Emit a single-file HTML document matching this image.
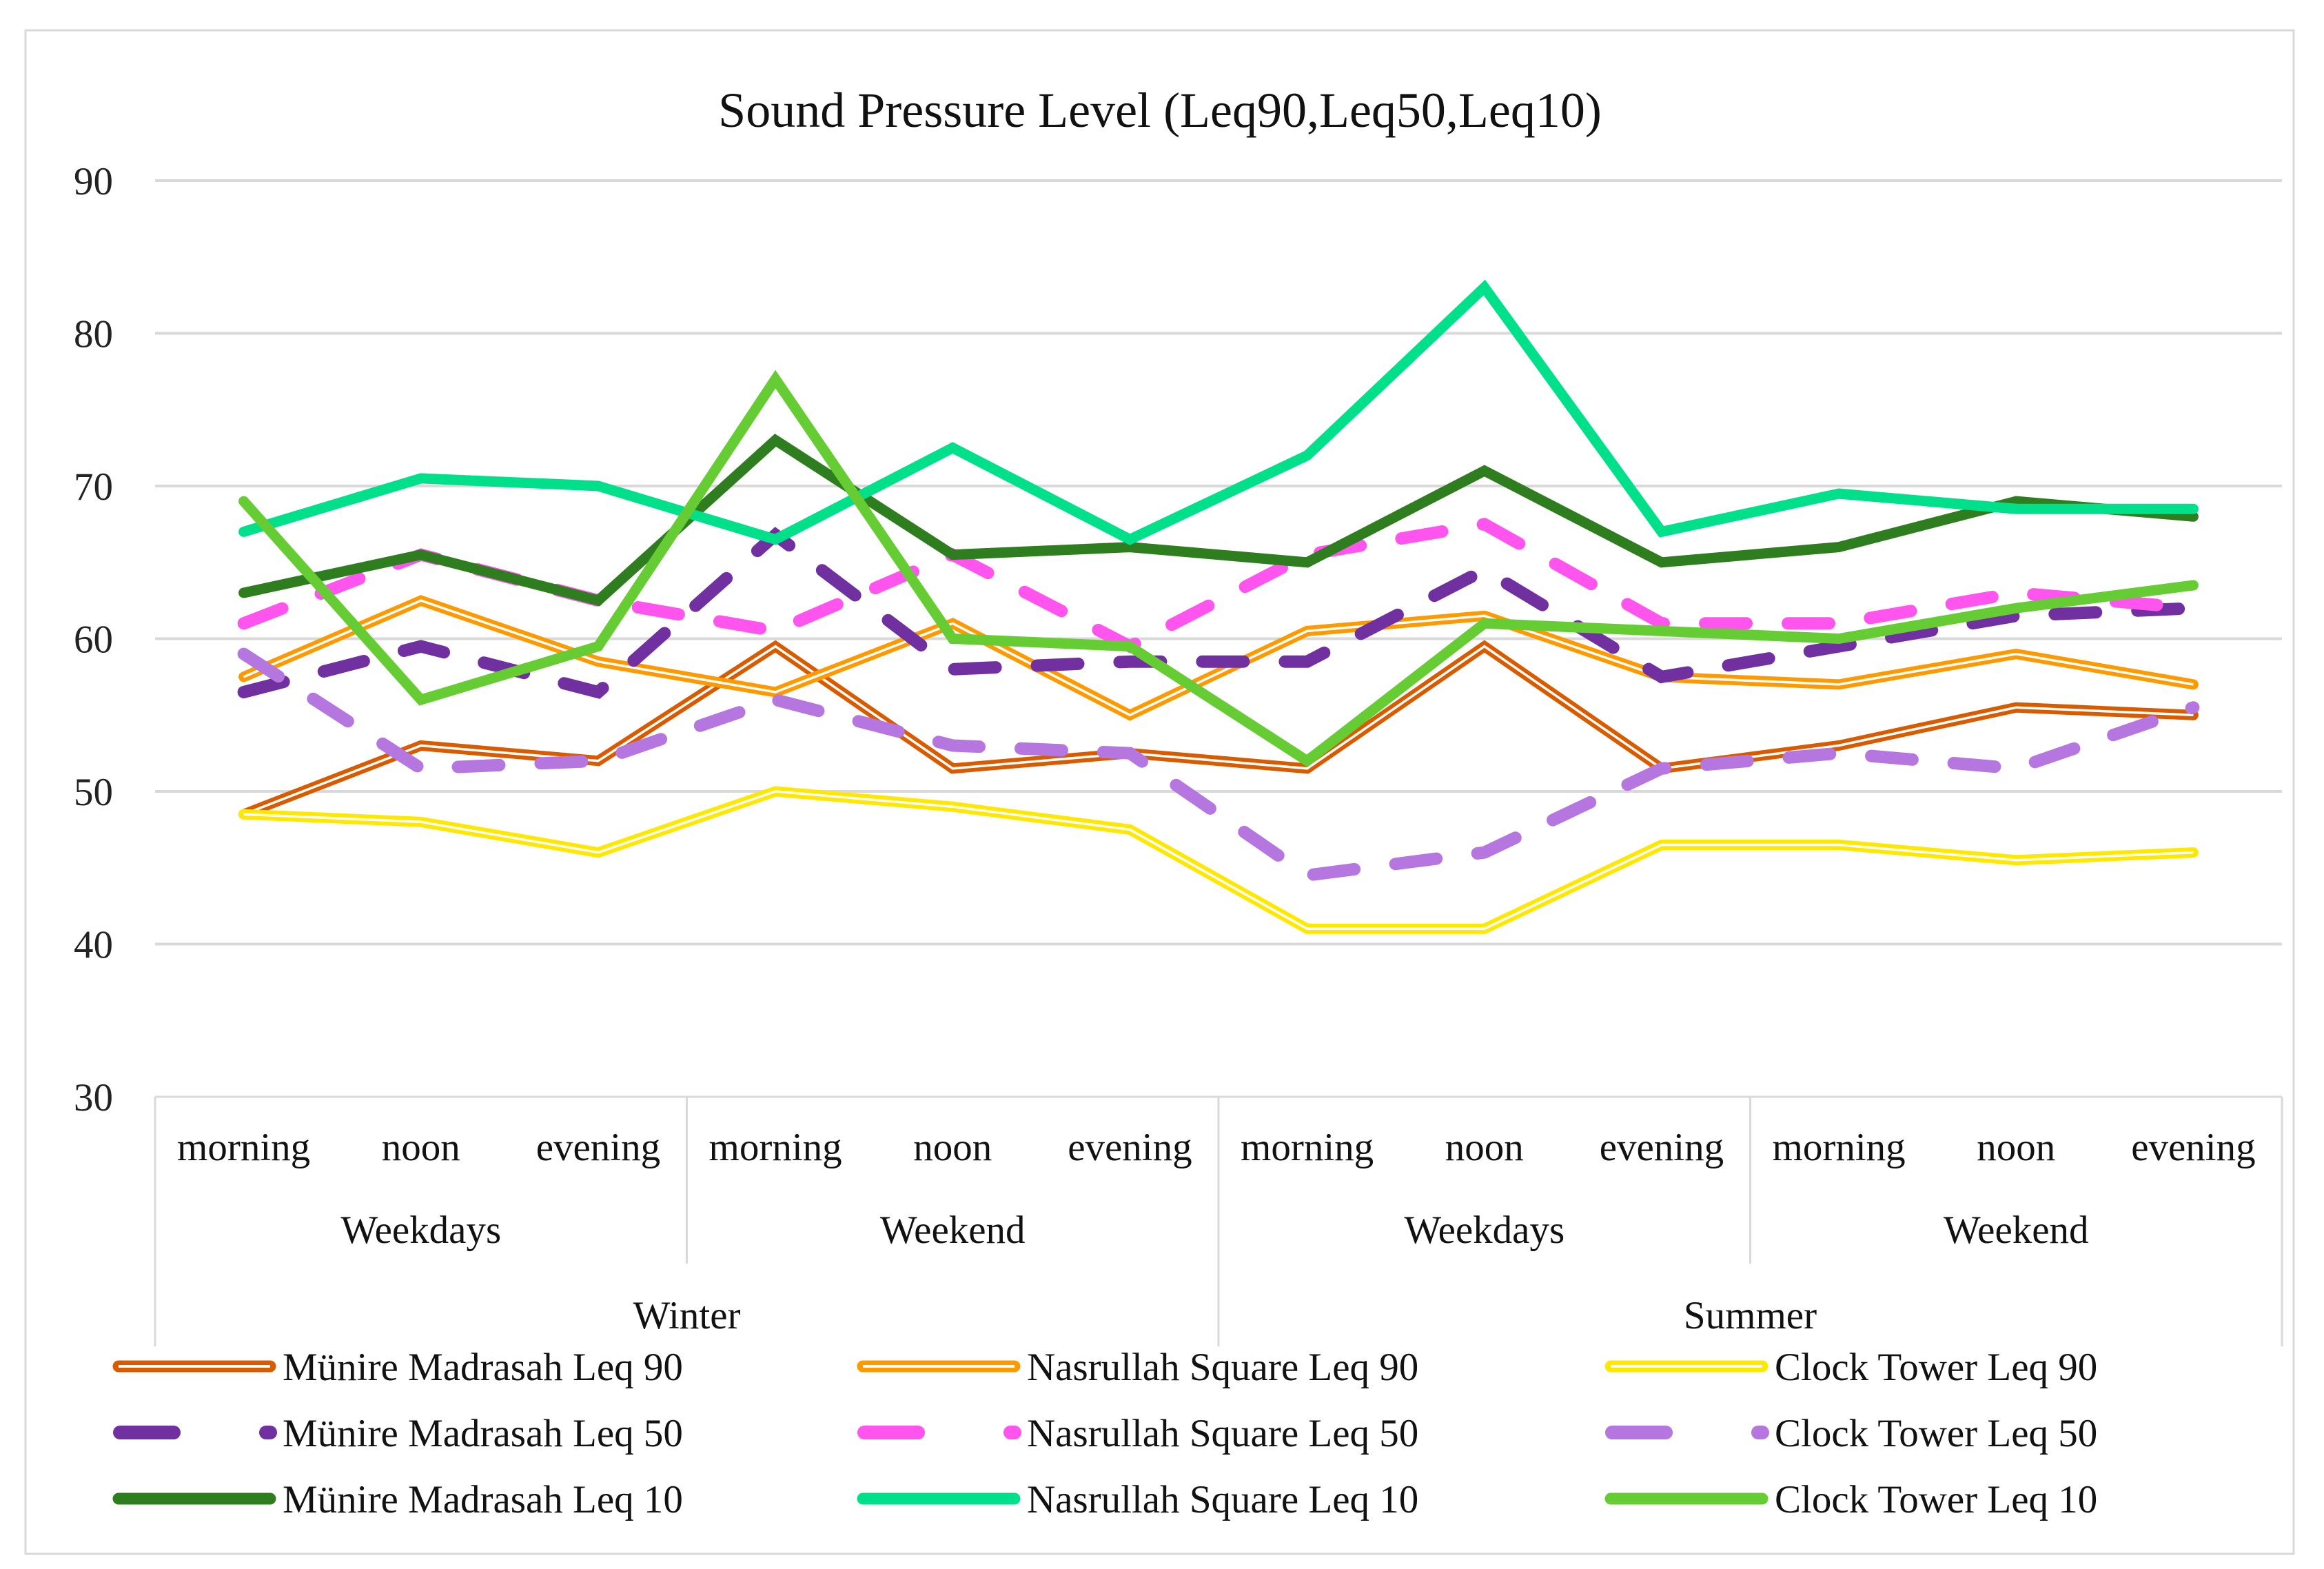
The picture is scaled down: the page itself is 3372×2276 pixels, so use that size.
<!DOCTYPE html>
<html><head><meta charset="utf-8"><style>
html,body{margin:0;padding:0;background:#fff;}
svg{display:block;font-family:"Liberation Serif",serif;}
</style></head><body>
<svg id="chart" width="3372" height="2276" viewBox="0 0 3372 2276" xmlns="http://www.w3.org/2000/svg">
<rect x="37" y="44" width="3291" height="2210" fill="#fff" stroke="#d9d9d9" stroke-width="3"/>
<text x="1683" y="184" font-size="72" text-anchor="middle" fill="#111">Sound Pressure Level (Leq90,Leq50,Leq10)</text>
<g id="grid"></g><g id="axis"></g><g id="series"></g><g id="legend"></g>
</svg>
<script>
const categories = ["morning","noon","evening","morning","noon","evening","morning","noon","evening","morning","noon","evening"];
const dayGroups = ["Weekdays","Weekend","Weekdays","Weekend"];
const seasons = ["Winter","Summer"];
const yTicks = [30,40,50,60,70,80,90];
const seriesNames = ["Münire Madrasah Leq 90","Nasrullah Square Leq 90","Clock Tower Leq 90","Münire Madrasah Leq 50","Nasrullah Square Leq 50","Clock Tower Leq 50","Münire Madrasah Leq 10","Nasrullah Square Leq 10","Clock Tower Leq 10"];
const munire90 = [48.5,53,52,59.5,51.5,52.5,51.5,59.5,51.5,53,55.5,55];
const nasrullah90 = [57.5,62.5,58.5,56.5,61,55,60.5,61.5,57.5,57,59,57];
const clock90 = [48.5,48,46,50,49,47.5,41,41,46.5,46.5,45.5,46];
const munire50 = [56.5,59.5,56.5,66.8,58,58.5,58.5,64.5,57.5,59.5,61.5,62];
const nasrullah50 = [61,65.5,62.5,60.5,65.5,59.5,65.5,67.5,61,61,63,62];
const clock50 = [59,51.5,52,56,53,52.5,44.5,46,51.5,52.5,51.5,55.5];
const munire10 = [63,65.5,62.5,73,65.5,66,65,71,65,66,69,68];
const nasrullah10 = [67,70.5,70,66.5,72.5,66.5,72,83,67,69.5,68.5,68.5];
const clock10 = [69,56,59.5,77,60,59.5,52,61,60.5,60,62,63.5];

const NS="http://www.w3.org/2000/svg";
const L=225,R=3311,T=262,B=1591,YMIN=30,YMAX=90;
const cw=(R-L)/categories.length;
const x=i=>L+cw*(i+0.5);
const y=v=>B-(v-YMIN)/(YMAX-YMIN)*(B-T);
function mk(tag,attrs,parent){const e=document.createElementNS(NS,tag);for(const k in attrs)e.setAttribute(k,attrs[k]);parent.appendChild(e);return e;}
const grid=document.getElementById('grid'),axis=document.getElementById('axis'),ser=document.getElementById('series'),leg=document.getElementById('legend');
yTicks.forEach(t=>{
  if(t>YMIN){const g=mk('line',{x1:L,x2:R,y1:y(t),y2:y(t),stroke:'#d9d9d9','stroke-width':4},grid);
  
  }
  const tx=mk('text',{x:164,y:y(t)+20,'font-size':57,'text-anchor':'end',fill:'#222'},grid);tx.textContent=t;
  
  
});
const bl=mk('line',{x1:L,x2:R,y1:B,y2:B,stroke:'#d9d9d9','stroke-width':3},axis);


for(let k=0;k<=4;k++){
  const xx=L+cw*3*k;const bottom=(k%2===0)?1953:1833;
  const ln=mk('line',{x1:xx,x2:xx,y1:B,y2:bottom,stroke:'#d9d9d9','stroke-width':3},axis);
  
  
}
categories.forEach((c,i)=>{const t=mk('text',{x:x(i),y:1683,'font-size':57,'text-anchor':'middle',fill:'#111'},axis);t.textContent=c;
  
  });
dayGroups.forEach((d,i)=>{const t=mk('text',{x:L+cw*(3*i+1.5),y:1803,'font-size':57,'text-anchor':'middle',fill:'#111'},axis);t.textContent=d;
  
  });
seasons.forEach((s,i)=>{const t=mk('text',{x:L+cw*(6*i+3),y:1927,'font-size':57,'text-anchor':'middle',fill:'#111'},axis);t.textContent=s;
  
  });

const data=[munire90,nasrullah90,clock90,munire50,nasrullah50,clock50,munire10,nasrullah10,clock10];
const colors=['#D95B00','#FF9900','#FFE800','#7030A0','#FF55EE','#B676E0','#2E7D1E','#00E08A','#66CC33'];
const styles=['double','double','double','dash','dash','dash','solid','solid','solid'];
data.forEach((arr,si)=>{
  const pts=arr.map((v,i)=>x(i).toFixed(1)+','+y(v).toFixed(1)).join(' ');
  const g=mk('g',{},ser);
  
  
  const a={points:pts,fill:'none',stroke:colors[si],'stroke-width':15,'stroke-linejoin':'miter','stroke-linecap':'round'};
  if(styles[si]==='dash'){a['stroke-dasharray']='60 60';a['stroke-width']=18;}
  mk('polyline',a,g);
  if(styles[si]==='double')mk('polyline',{points:pts,fill:'none',stroke:'#fff','stroke-width':3.5},g);
});
const colX=[164,1244,2329],rowY=[1982,2078,2174];
seriesNames.forEach((n,si)=>{
  const c=si%3,r=Math.floor(si/3);const x0=colX[c],x1=x0+236,yy=rowY[r];
  const g=mk('g',{},leg);
  
  
  if(styles[si]==='dash'){
    mk('line',{x1:x0+10,x2:x0+88,y1:yy,y2:yy,stroke:colors[si],'stroke-width':20,'stroke-linecap':'round'},g);
    mk('line',{x1:x1-14,x2:x1-8,y1:yy,y2:yy,stroke:colors[si],'stroke-width':20,'stroke-linecap':'round'},g);
  }else{
    mk('line',{x1:x0+8,x2:x1-8,y1:yy,y2:yy,stroke:colors[si],'stroke-width':17,'stroke-linecap':'round'},g);
    if(styles[si]==='double')mk('line',{x1:x0+8,x2:x1-8,y1:yy,y2:yy,stroke:'#fff','stroke-width':4},g);
  }
  const t=mk('text',{x:x1+10,y:yy+20,'font-size':57,fill:'#111'},g);t.textContent=n;
});
</script>
</body></html>
